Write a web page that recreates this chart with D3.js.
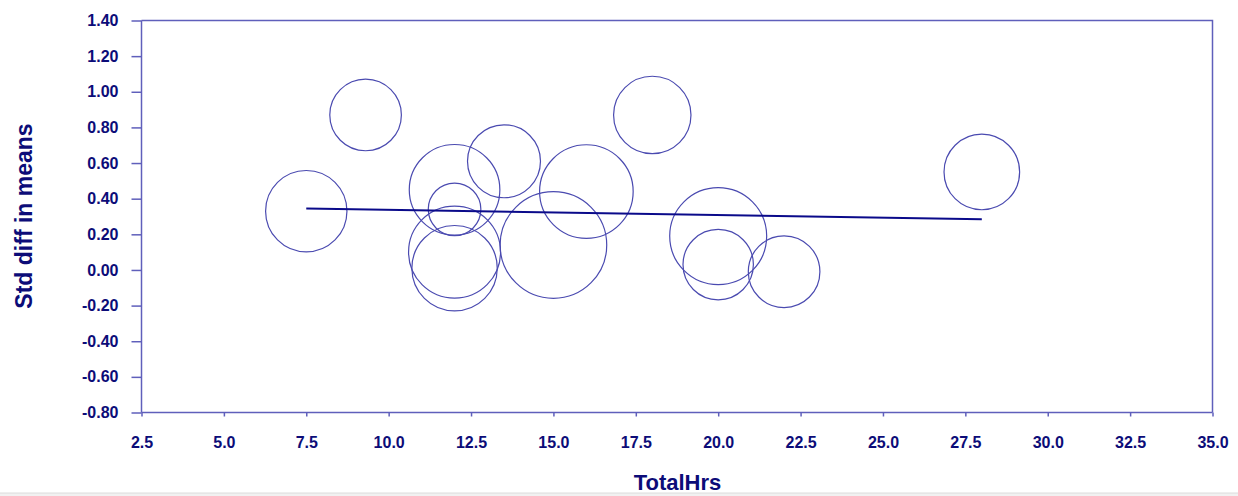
<!DOCTYPE html>
<html>
<head>
<meta charset="utf-8">
<script src="https://cdn.jsdelivr.net/npm/d3@7"></script>
<style>
  html, body { margin: 0; padding: 0; background: #ffffff; }
  svg { display: block; }
</style>
</head>
<body>
<svg id="chart" width="1238" height="496"></svg>
<script>
// ---- data ----
const totalHrs   = [7.5, 9.3, 12.0, 12.0, 12.0, 12.0, 13.5, 15.0, 16.0, 18.0, 20.0, 20.0, 22.0, 28.0];
const stdDiff    = [0.33, 0.87, 0.45, 0.34, 0.10, 0.01, 0.61, 0.14, 0.44, 0.87, 0.19, 0.03, -0.01, 0.55];
const weights    = [6.96, 5.39, 8.63, 2.91, 8.90, 7.66, 5.60, 11.95, 9.21, 6.30, 9.89, 5.21, 5.39, 6.01];
const regX       = [7.5, 28.0];
const regY       = [0.345, 0.285];
const xTicks     = [2.5, 5.0, 7.5, 10.0, 12.5, 15.0, 17.5, 20.0, 22.5, 25.0, 27.5, 30.0, 32.5, 35.0];
const yTicks     = [-0.8, -0.6, -0.4, -0.2, 0.0, 0.2, 0.4, 0.6, 0.8, 1.0, 1.2, 1.4];
const xTitle     = "TotalHrs";
const yTitle     = "Std diff in means";

// ---- layout ----
const svg = d3.select("#chart");
const L = 141.5, R = 1212.5, T = 20.5, B = 412.5;
const axisColor = "#5f5fbb";
const textColor = "#0c0c78";
const circleColor = "#4a4ab0";
const lineColor = "#0a0a8a";

const x = d3.scaleLinear().domain([2.5, 35]).range([L, R]);
const y = d3.scaleLinear().domain([-0.8, 1.4]).range([B, T]);
const r = d3.scaleSqrt().domain([0, d3.max(weights)]).range([0, 53.3]);

const fmtY = d => d3.format(".2f")(d).replace("\u2212", "-");
const fmtX = d => d3.format(".1f")(d).replace("\u2212", "-");

// bottom grey strip
svg.append("rect").attr("x", 0).attr("y", 493).attr("width", 1238).attr("height", 3).attr("fill", "#f1f1f1");
svg.append("line").attr("x1", 0).attr("x2", 1238).attr("y1", 493).attr("y2", 493).attr("stroke", "#dcdcdc");

// frame (top and right)
svg.append("path")
  .attr("d", `M${L},${T}H${R}V${B}`)
  .attr("fill", "none").attr("stroke", axisColor).attr("stroke-width", 1.5);

// y axis
const yAxis = svg.append("g").attr("transform", `translate(${L},0)`)
  .call(d3.axisLeft(y).tickValues(yTicks).tickFormat(fmtY).tickSize(10).tickPadding(13));
// x axis
const xAxis = svg.append("g").attr("transform", `translate(0,${B})`)
  .call(d3.axisBottom(x).tickValues(xTicks).tickFormat(fmtX).tickSize(4).tickPadding(20));

[yAxis, xAxis].forEach(g => {
  g.select(".domain").attr("stroke", axisColor).attr("stroke-width", 1.5);
  g.selectAll(".tick line").attr("stroke", axisColor).attr("stroke-width", 1.5);
  g.selectAll(".tick text")
    .attr("fill", textColor)
    .style("font-family", "Liberation Sans, Arial, sans-serif")
    .style("font-weight", "bold")
    .style("font-size", "16px");
});
yAxis.select(".domain").attr("d", `M0,${T}V${B}`);
xAxis.select(".domain").attr("d", `M${L},0H${R}`);

// bubbles
const pts = totalHrs.map((d, i) => ({x: d, y: stdDiff[i], w: weights[i]}));
svg.append("g").selectAll("circle").data(pts).join("circle")
  .attr("cx", d => x(d.x))
  .attr("cy", d => y(d.y))
  .attr("r", d => r(d.w))
  .attr("fill", "none")
  .attr("stroke", circleColor)
  .attr("stroke-width", 1.2);

// regression line
svg.append("path")
  .datum(regX.map((d, i) => [d, regY[i]]))
  .attr("d", d3.line().x(d => x(d[0])).y(d => y(d[1])))
  .attr("fill", "none").attr("stroke", lineColor).attr("stroke-width", 2);

// titles
svg.append("text")
  .attr("x", (L + R) / 2 + 0.5).attr("y", 490)
  .attr("text-anchor", "middle")
  .attr("fill", textColor)
  .style("font-family", "Liberation Sans, Arial, sans-serif")
  .style("font-weight", "bold").style("font-size", "22px")
  .text(xTitle);

svg.append("text")
  .attr("transform", "translate(32,216) rotate(-90)")
  .attr("text-anchor", "middle")
  .attr("fill", textColor)
  .style("font-family", "Liberation Sans, Arial, sans-serif")
  .style("font-weight", "bold").style("font-size", "23px")
  .text(yTitle);
</script>
</body>
</html>
